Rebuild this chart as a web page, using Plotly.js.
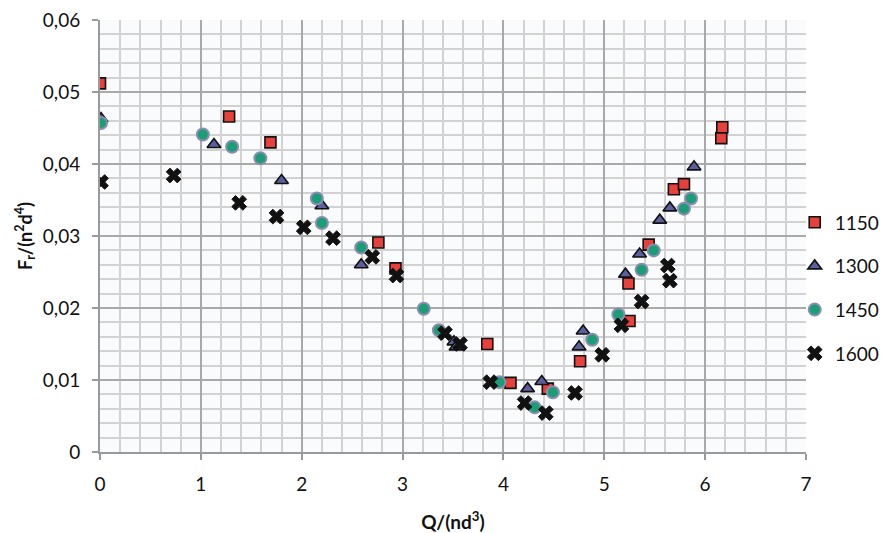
<!DOCTYPE html>
<html>
<head>
<meta charset="utf-8">
<script src="https://cdn.plot.ly/plotly-3.0.1.min.js"></script>
<style>
  html, body { margin: 0; padding: 0; background: #ffffff; }
  #chart { width: 884px; height: 533px; }
</style>
</head>
<body>
<div id="chart"></div>
<script>
// Series names
const seriesNames = ['1150', '1300', '1450', '1600'];

// 1150 (red squares)
const x1150 = [0.00, 1.28, 1.69, 2.76, 2.93, 3.84, 4.07, 4.44, 4.76, 5.25, 5.24, 5.44, 5.69, 5.79, 6.16, 6.17];
const y1150 = [0.0512, 0.0466, 0.0430, 0.0291, 0.0255, 0.0150, 0.0096, 0.0088, 0.0126, 0.0182, 0.0234, 0.0288, 0.0365, 0.0372, 0.0436, 0.0451];

// 1300 (blue triangles)
const x1300 = [0.01, 1.13, 1.80, 2.20, 2.59, 3.51, 3.53, 4.24, 4.38, 4.75, 4.79, 5.21, 5.35, 5.55, 5.65, 5.89];
const y1300 = [0.0463, 0.0427, 0.0377, 0.0342, 0.0260, 0.0153, 0.0146, 0.0088, 0.0098, 0.0146, 0.0168, 0.0247, 0.0275, 0.0322, 0.0339, 0.0396];

// 1450 (green circles)
const x1450 = [0.01, 1.02, 1.31, 1.59, 2.15, 2.20, 2.59, 3.21, 3.36, 3.96, 4.31, 4.49, 4.88, 5.14, 5.37, 5.49, 5.79, 5.86];
const y1450 = [0.0457, 0.0441, 0.0424, 0.0408, 0.0352, 0.0318, 0.0284, 0.0199, 0.0169, 0.0097, 0.0062, 0.0083, 0.0156, 0.0191, 0.0253, 0.0280, 0.0338, 0.0352];

// 1600 (black crosses)
const x1600 = [0.01, 0.73, 1.38, 1.75, 2.02, 2.31, 2.70, 2.94, 3.42, 3.57, 3.87, 4.21, 4.42, 4.71, 4.98, 5.17, 5.37, 5.63, 5.65];
const y1600 = [0.0375, 0.0384, 0.0346, 0.0327, 0.0312, 0.0297, 0.0271, 0.0245, 0.0165, 0.0150, 0.0097, 0.0068, 0.0054, 0.0082, 0.0135, 0.0176, 0.0209, 0.0259, 0.0238];

// Tick labels
const yTickVals = [0, 0.01, 0.02, 0.03, 0.04, 0.05, 0.06];
const yTickText = ['0', '0,01', '0,02', '0,03', '0,04', '0,05', '0,06'];
const xTickVals = [0, 1, 2, 3, 4, 5, 6, 7];
const xTickText = ['0', '1', '2', '3', '4', '5', '6', '7'];

const FONT = 'Lato, "Open Sans", sans-serif';

const traces = [
  { x: x1150, y: y1150, name: seriesNames[0], legendgroup: 'a',
    marker: { symbol: 'square', size: 11, color: '#e8403a', line: { color: '#111111', width: 1.6 } } },
  { x: x1300, y: y1300, name: seriesNames[1], legendgroup: 'b',
    marker: { symbol: 'triangle-up', size: 12, color: '#5b5f9f', line: { color: '#111111', width: 1.6 } } },
  { x: x1450, y: y1450, name: seriesNames[2], legendgroup: 'c',
    marker: { symbol: 'circle', size: 12, color: '#1a9e78', line: { color: '#8a8cb0', width: 2 } } },
  { x: x1600, y: y1600, name: seriesNames[3], legendgroup: 'd',
    marker: { symbol: 'x', size: 13, color: '#111111', line: { color: '#111111', width: 1 } } }
].map(t => Object.assign({ type: 'scatter', mode: 'markers', hoverinfo: 'skip' }, t));

const layout = {
  width: 884, height: 533,
  margin: { l: 100, r: 78, t: 20, b: 81, pad: 0, autoexpand: false },
  paper_bgcolor: '#ffffff',
  plot_bgcolor: '#f9fbfd',
  font: { family: FONT, size: 19, color: '#111111' },
  showlegend: true,
  legend: {
    x: 0.984, xanchor: 'left', y: 0.38, yanchor: 'middle',
    bgcolor: 'rgba(0,0,0,0)', borderwidth: 0,
    font: { family: FONT, size: 19, color: '#111111' },
    traceorder: 'grouped', tracegroupgap: 16, itemwidth: 30
  },
  xaxis: {
    range: [0, 7], autorange: false,
    tickmode: 'array', tickvals: xTickVals, ticktext: xTickText,
    ticks: 'outside', ticklen: 6, tickcolor: '#9a9a9a', tickwidth: 2,
    ticklabelstandoff: 8,
    showline: true, linecolor: '#9a9a9a', linewidth: 2, mirror: false,
    showgrid: true, gridcolor: '#a9a9a9', gridwidth: 2,
    minor: { dtick: 0.2, showgrid: true, gridcolor: '#d2d2d2', gridwidth: 2 },
    zeroline: false,
    tickfont: { family: FONT, size: 19, color: '#111111' },
    title: { text: '<b>Q/(nd<sup>3</sup>)</b>', font: { family: FONT, size: 19, color: '#111111' }, standoff: 24 }
  },
  yaxis: {
    range: [0, 0.06], autorange: false,
    tickmode: 'array', tickvals: yTickVals, ticktext: yTickText,
    ticks: 'outside', ticklen: 6, tickcolor: '#9a9a9a', tickwidth: 2,
    ticklabelstandoff: 8,
    showline: true, linecolor: '#9a9a9a', linewidth: 2, mirror: false,
    showgrid: true, gridcolor: '#a9a9a9', gridwidth: 2,
    minor: { dtick: 0.002, showgrid: true, gridcolor: '#d2d2d2', gridwidth: 2 },
    zeroline: false,
    tickfont: { family: FONT, size: 19, color: '#111111' },
    title: { text: '<b>F<sub>r</sub>/(n<sup>2</sup>d<sup>4</sup>)</b>', font: { family: FONT, size: 18, color: '#111111' }, standoff: 6 }
  }
};

Plotly.newPlot('chart', traces, layout, { displayModeBar: false, staticPlot: true });
</script>
</body>
</html>
